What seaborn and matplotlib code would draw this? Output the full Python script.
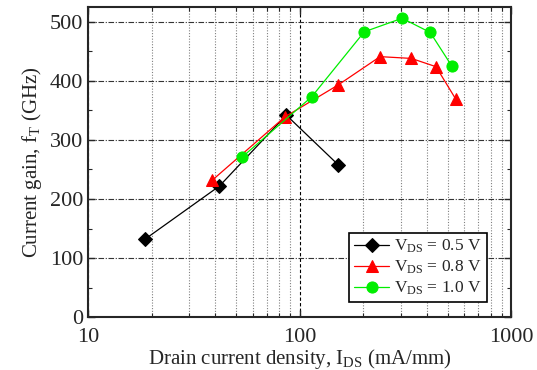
import numpy as np
import pandas as pd
import matplotlib
matplotlib.use("Agg")
import matplotlib.pyplot as plt
from matplotlib.ticker import LogLocator, MultipleLocator, NullFormatter
import seaborn as sns

# Data
ids_05 = [18.6, 41.8, 86.5, 152]
ft_05 = [132, 222, 342, 258]

ids_08 = [38.7, 85.2, 152, 240, 337, 441, 547]
ft_08 = [232, 339, 393, 441, 438, 424, 369]

ids_10 = [53.5, 114, 202, 305, 414, 524]
ft_10 = [271, 373, 483, 506, 482, 425]

labels = ["V$_{\\mathregular{DS}}$ = 0.5 V",
          "V$_{\\mathregular{DS}}$ = 0.8 V",
          "V$_{\\mathregular{DS}}$ = 1.0 V"]

sns.set_style("ticks")
plt.rcParams['font.family'] = ['Liberation Serif', 'DejaVu Serif']
plt.rcParams['mathtext.fontset'] = 'custom'
plt.rcParams['mathtext.rm'] = 'Liberation Serif'
plt.rcParams['mathtext.it'] = 'Liberation Serif'

fig = plt.figure(figsize=(5.37, 3.70), dpi=100)
ax = fig.add_axes([0.164, 0.143, 0.788, 0.838])

series = [
    (ids_05, ft_05, "black", "D", 7),
    (ids_08, ft_08, "red", "^", 9),
    (ids_10, ft_10, "#00ee00", "o", 8),
]
for (x, y, c, m, ms), lab in zip(series, labels):
    df = pd.DataFrame({"x": x, "y": y})
    sns.lineplot(data=df, x="x", y="y", ax=ax, color=c, marker=m,
                 markersize=ms, markeredgecolor=c, linewidth=0.9,
                 sort=False, label=lab, zorder=3)

ax.set_xscale("log")
ax.set_xlim(10, 1000)
ax.set_ylim(0, 525)
ax.yaxis.set_major_locator(MultipleLocator(100))
ax.yaxis.set_minor_locator(MultipleLocator(50))
ax.xaxis.set_major_locator(LogLocator(base=10))
ax.xaxis.set_minor_locator(LogLocator(base=10, subs=np.arange(2, 10)))
ax.xaxis.set_minor_formatter(NullFormatter())
ax.set_xticks([10, 100, 1000])
ax.set_xticklabels(["10", "100", "1000"])

ax.grid(which="major", axis="x", color="black", linestyle=(0, (3, 2)), linewidth=0.8)
ax.grid(which="minor", axis="x", color="gray", linestyle=(0, (1, 1.5)), linewidth=0.8)
ax.grid(which="major", axis="y", color="#333333", linestyle=(0, (5, 1.5, 1, 1.5)), linewidth=0.8)

ax.tick_params(which="both", direction="in", top=True, right=True, labelsize=16)
ax.tick_params(which="major", length=5, width=1)
ax.tick_params(which="minor", length=3, width=0.8)
ax.tick_params(axis="x", which="major", pad=8)
for s in ax.spines.values():
    s.set_linewidth(1.5)

ax.set_xlabel("Drain current density, I$_{\\mathregular{DS}}$ (mA/mm)", fontsize=15, labelpad=0)
ax.set_ylabel("Current gain, f$_{\\mathregular{T}}$ (GHz)", fontsize=15, labelpad=4)

leg = ax.legend(loc="lower right", bbox_to_anchor=(0.943, 0.048), fontsize=12.5,
                frameon=True, fancybox=False, edgecolor="black", framealpha=1,
                borderpad=0.3, handlelength=2.0, handletextpad=0.3,
                labelspacing=0.2, borderaxespad=0)
leg.get_frame().set_linewidth(1.2)

fig.savefig("out.png", dpi=100)
